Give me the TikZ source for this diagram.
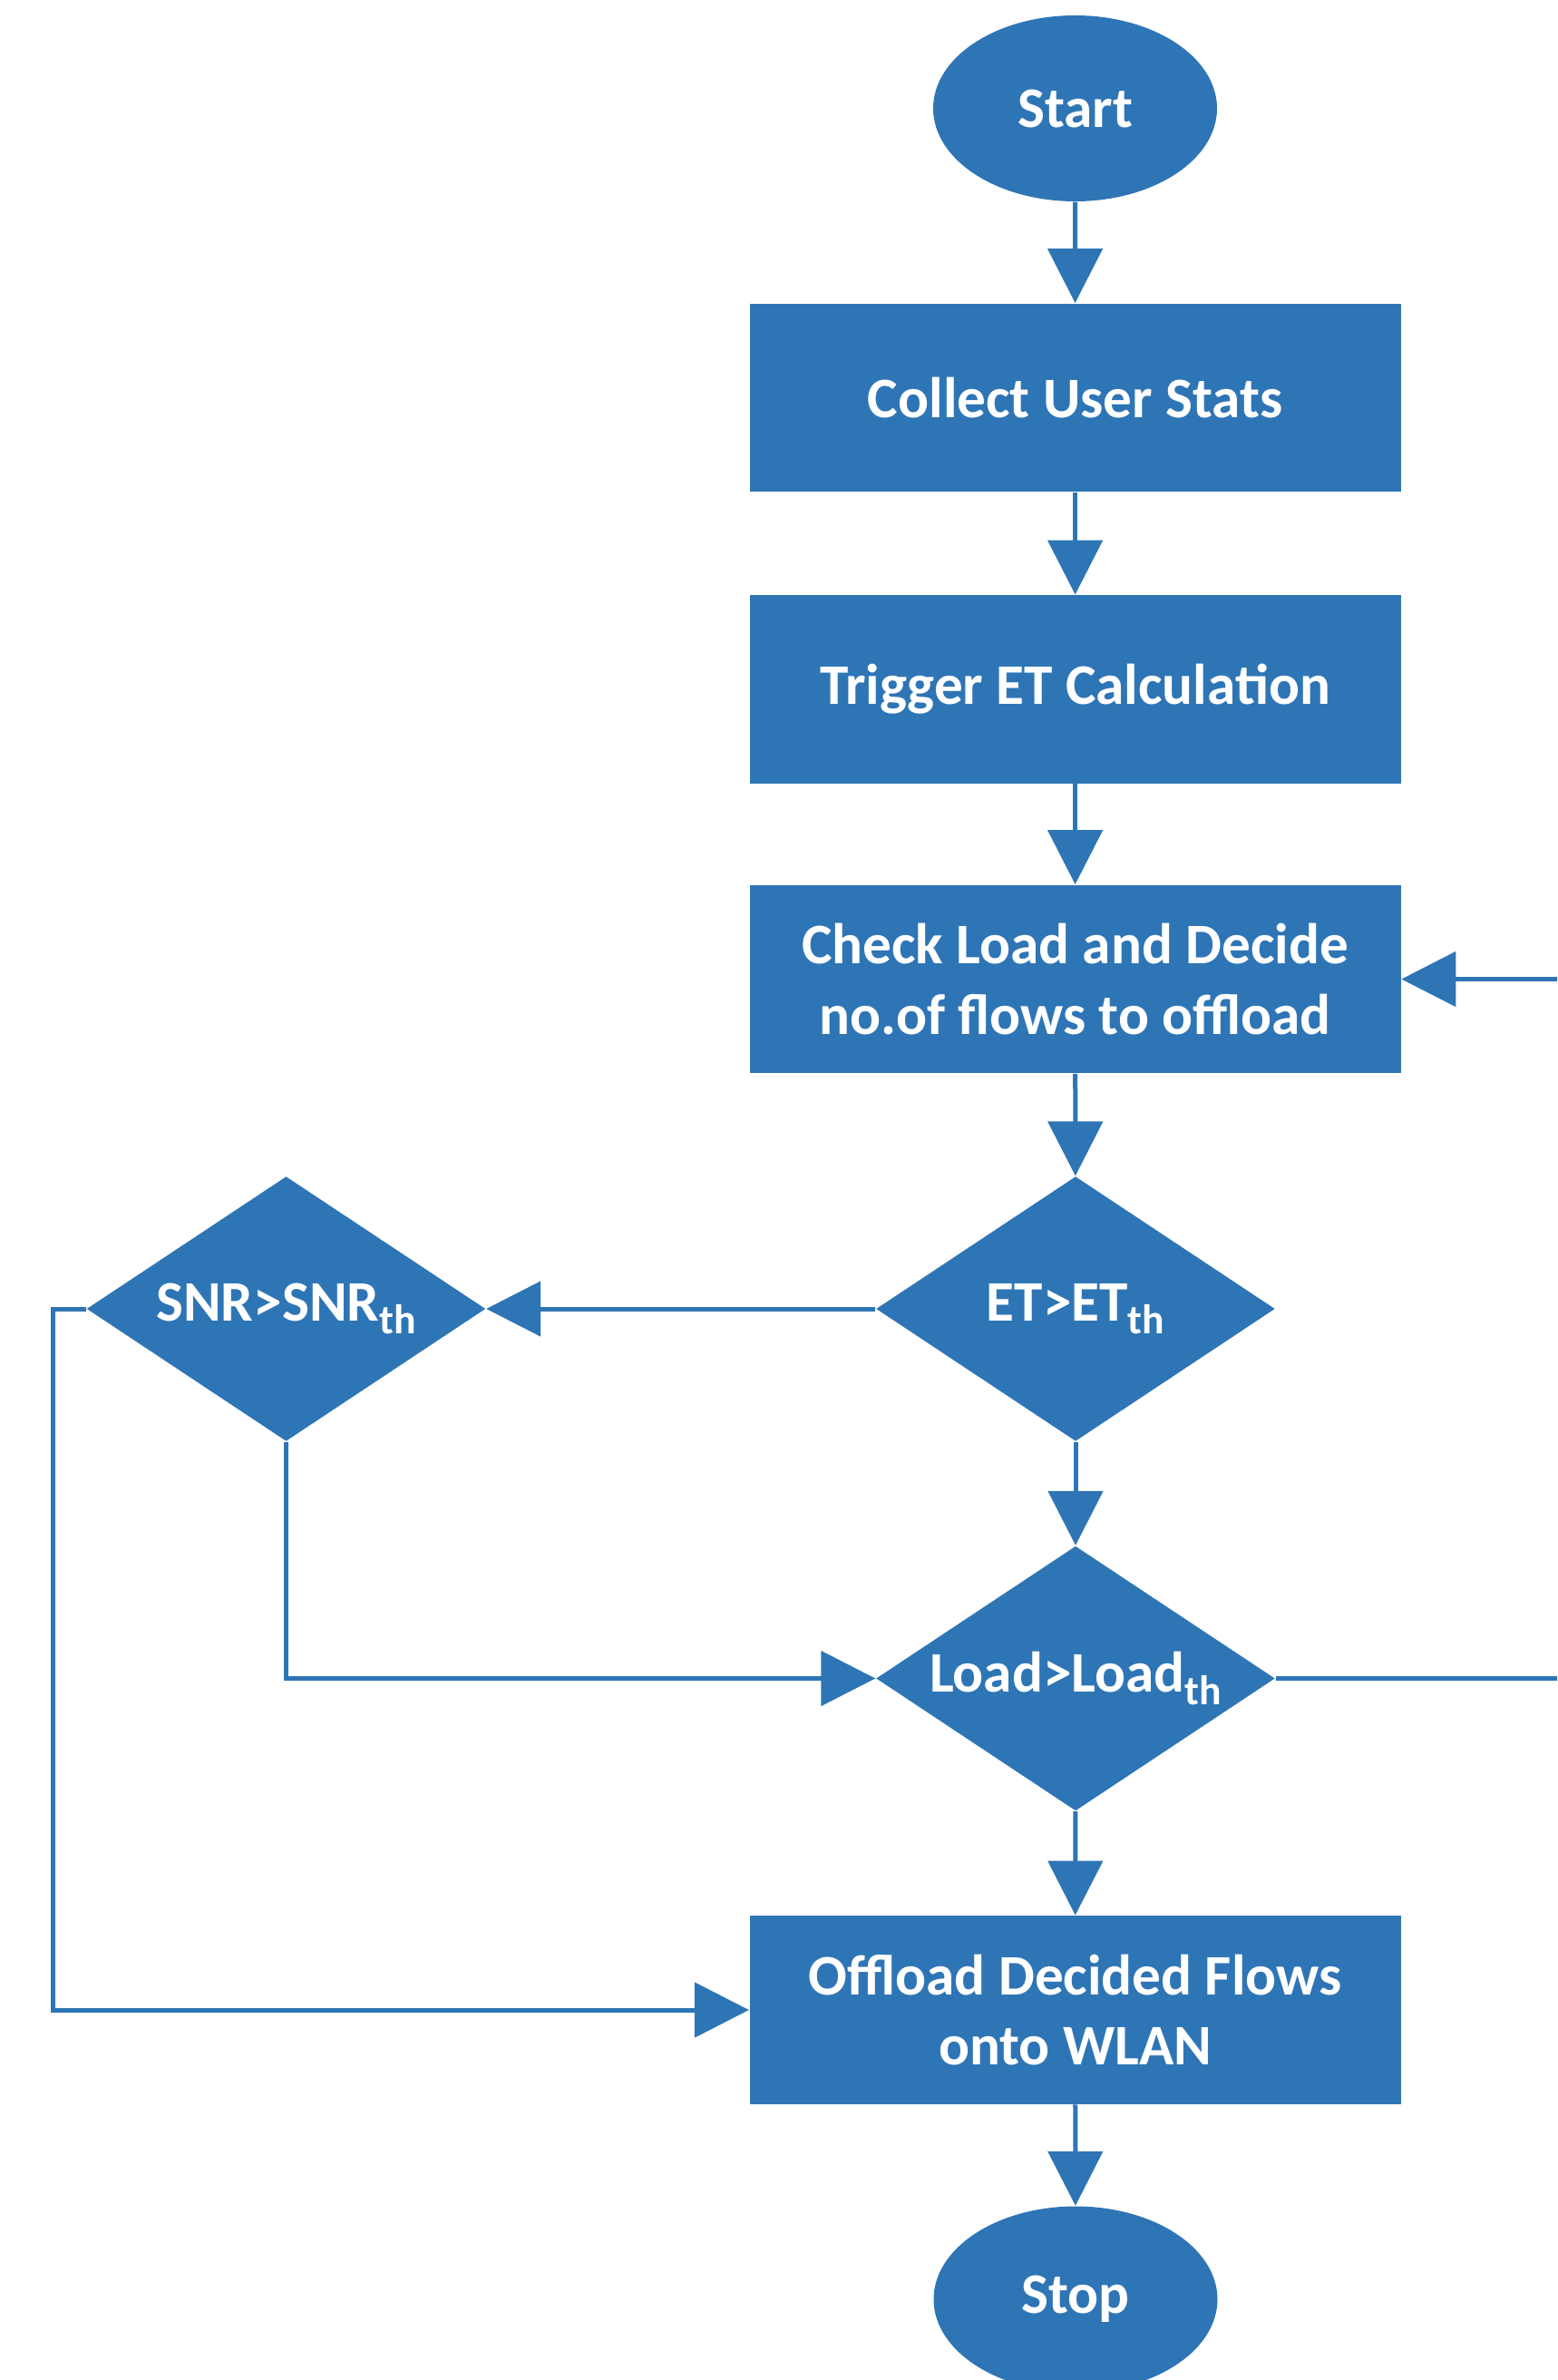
\documentclass[tikz,border=0pt]{standalone}
\usepackage{fontspec}
\setmainfont{Carlito}
\usetikzlibrary{shapes.geometric,arrows.meta}
\definecolor{fcblue}{HTML}{2E75B6}
\tikzset{
  base/.style={fill=fcblue, draw=none, text=white, font=\bfseries\fontsize{18pt}{22pt}\selectfont, align=center, inner sep=0pt},
  term/.style={base, ellipse, minimum width=3.13cm, minimum height=2.05cm},
  proc/.style={base, rectangle, minimum width=7.18cm, minimum height=2.075cm},
  decis/.style={base, diamond, aspect=1.5, minimum width=4.40cm, minimum height=2.92cm},
  conn/.style={draw=fcblue, line width=0.05cm},
  arr/.style={conn, -{Triangle[length=0.6cm,width=0.6cm]}},
}
\newcommand{\thsub}{\raisebox{-0.45ex}{\fontsize{13pt}{13pt}\selectfont th}}
\begin{document}
\begin{tikzpicture}
\useasboundingbox (0,0) rectangle (17.17,-26.24);
\clip (0,0) rectangle (17.17,-26.24);
\node[term] (start) at (11.855,-1.195) {Start};
\node[proc] (collect) at (11.856,-4.385) {Collect User Stats};
\node[proc] (trigger) at (11.856,-7.60) {Trigger ET Calculation};
\node[proc] (check) at (11.856,-10.795) {Check Load and Decide\\no.of flows to offload};
\node[decis] (et) at (11.86,-14.43) {ET>ET\thsub};
\node[decis] (snr) at (3.155,-14.43) {SNR>SNR\thsub};
\node[decis] (load) at (11.86,-18.505) {Load>Load\thsub};
\node[proc] (offload) at (11.856,-22.16) {Offload Decided Flows\\onto WLAN};
\node[term] (stop) at (11.86,-25.35) {Stop};
\coordinate (rloop) at (17.6,-18.505);
\coordinate (lloop) at (0.585,-14.43);
\draw[arr] (start) -- (collect);
\draw[arr] (collect) -- (trigger);
\draw[arr] (trigger) -- (check);
\draw[arr] (check) -- (et);
\draw[arr] (et.west) -- (snr.east);
\draw[arr] (et) -- (load);
\draw[arr] (snr.south) |- (load.west);
\draw[arr] (snr.west) -- (lloop) |- (offload.west);
\draw[arr] (load.east) -- (rloop) |- (check.east);
\draw[arr] (load) -- (offload);
\draw[arr] (offload) -- (stop);
\end{tikzpicture}
\end{document}
